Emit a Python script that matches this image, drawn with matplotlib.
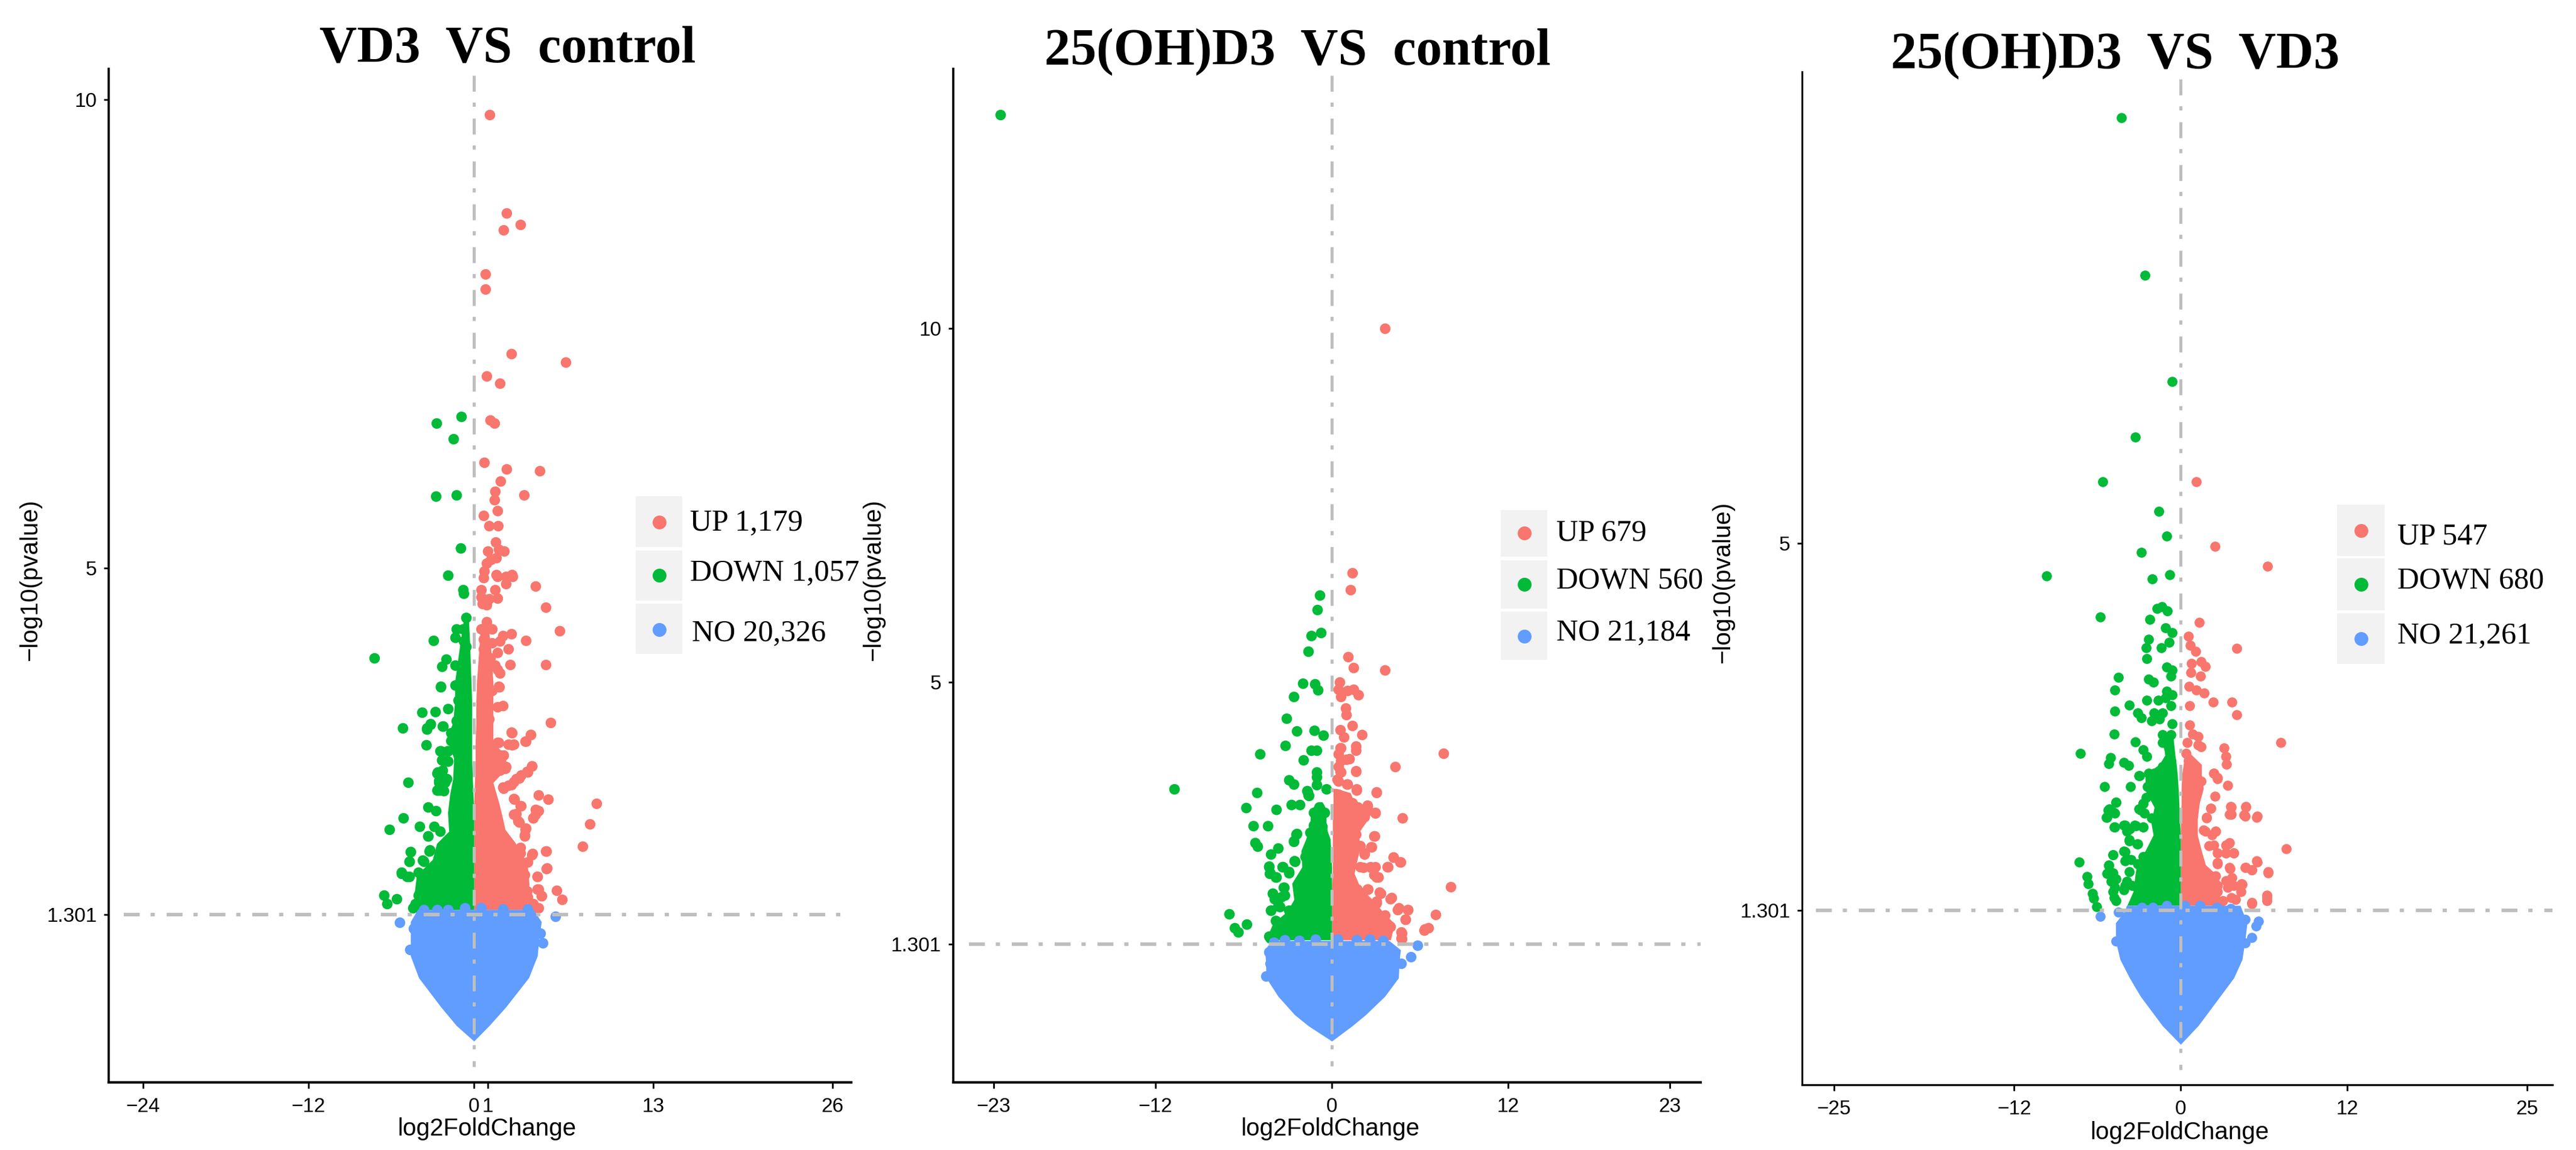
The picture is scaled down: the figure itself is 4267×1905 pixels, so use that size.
import matplotlib
matplotlib.use('Agg')
import matplotlib.pyplot as plt
from matplotlib.patches import Rectangle
from matplotlib.lines import Line2D

W = 4267
H = 1905
RED = '#F8766D'
GREEN = '#00BA38'
BLUE = '#619CFF'
LINE_GREY = '#BEBEBE'
KEY_GREY = '#F2F2F2'
SERIF = 'Liberation Serif'
NARROW = ['Liberation Sans Narrow', 'Liberation Sans']
SANS = 'Liberation Sans'

titles = ['VD3  VS  control', '25(OH)D3  VS  control', '25(OH)D3  VS  VD3']
legend_labels = [['UP 1,179', 'DOWN 1,057', 'NO 20,326'],
                 ['UP 679', 'DOWN 560', 'NO 21,184'],
                 ['UP 547', 'DOWN 680', 'NO 21,261']]
x_ticks = [[-24, -12, 0, 1, 13, 26], [-23, -12, 0, 12, 23], [-25, -12, 0, 12, 25]]
y_ticks = [[1.301, 5, 10], [1.301, 5, 10], [1.301, 5]]

# ---- VD3 vs control: outlying points
p1_up_x = [1.15, 2.34, 3.37, 2.14, .83, .83, 2.70, 6.63, .91, 1.87, 1.19, 1.47, .75, 2.38, 4.76, 1.94, 1.51, 1.47, 3.61, 1.71,
           .71, 1.07, 1.75, 1.59, .99, 2.18, 1.79, 1.63, 1.23, .91, .75, 1.63, 2.74, .71, 1.71, 2.30, 2.78, 2.30, 4.48, .52,
           1.51, .52, 1.11, 1.71, .6, .91, 5.2, .91, .52, 1.31, 2.7, 6.23, 2.10, 3.77, .71, 1.31, 1.9, .71, 2.5, 1.71,
           1.19, .91, 2.62, 5.2, 1.51, 1.9, 1.71, .71, .6, .63, 1.79, 1.31, .91, 1.71, 2.1, .91, 1.11, .83, 5.56, 2.70,
           4.09, 3.77, 2.5, 2.9, 1.71, 1.51, 1.9, 1.31, 4.21, 2.3, 1.9, 1.51, 3.89, 3.29, 2.9, 2.5, 2.1, 4.68, 5.40, 2.9,
           3.37, 8.89, 4.68, 4.48, 4.29, 8.41, 2.9, 3.29, 3.77, 3.69, 7.86, 3.37, 5.2, 4.21, 3.89, 5.28, 4.6, 5.99, 4.68, 4.88,
           6.39, 4.6, 3.89, 3.69, 3.49,
           1.82, 2.74, 4.13, 3.72, 2.77, 1.78, 2.12, 2.26, 4.19, 3.87, 3.43, 3.06, 2.7, 2.12, 2.92, 3.4, 4.45, 4.3, 3.06, 3.21,
           3.72, 3.69, 3.36, 4.23, 5.25, 5.25, 4.6, 4.6, 4.89, 4.67, 3.87, 4.3]
p1_up_y = [9.84, 8.79, 8.67, 8.61, 8.14, 7.98, 7.29, 7.20, 7.05, 6.97, 6.58, 6.55, 6.13, 6.06, 6.04, 5.93, 5.82, 5.73, 5.78, 5.61,
           5.56, 5.45, 5.45, 5.28, 5.18, 5.18, 5.20, 5.11, 5.09, 5.05, 4.97, 4.93, 4.93, 4.90, 4.91, 4.91, 4.91, 4.83, 4.81, 4.77,
           4.77, 4.69, 4.67, 4.68, 4.62, 4.61, 4.58, 4.43, 4.35, 4.35, 4.30, 4.33, 4.28, 4.23, 4.24, 4.2, 4.22, 4.14, 4.14, 4.10,
           4.04, 4.0, 3.97, 3.97, 3.96, 3.88, 3.92, 3.90, 3.80, 3.75, 3.74, 3.69, 3.61, 3.52, 3.53, 3.51, 3.39, 3.33, 3.35, 3.25,
           3.22, 3.15, 3.12, 3.12, 3.14, 3.02, 3.0, 3.06, 2.89, 2.88, 2.84, 2.9, 2.82, 2.76, 2.72, 2.68, 2.66, 2.58, 2.53, 2.54,
           2.46, 2.49, 2.41, 2.37, 2.33, 2.27, 2.37, 2.29, 2.22, 2.14, 2.03, 2.02, 1.98, 1.94, 1.86, 1.80, 1.71, 1.56, 1.57, 1.5,
           1.46, 1.37, 1.49, 1.73, 1.67,
           3.73, 3.24, 3.22, 3.15, 3.11, 3.14, 3.0, 2.86, 2.89, 2.83, 2.79, 2.75, 2.69, 2.65, 2.53, 2.46, 2.42, 2.33, 2.38, 2.3,
           2.21, 2.15, 1.96, 1.95, 1.98, 1.79, 1.71, 1.57, 1.5, 1.37, 1.55, 1.42]
p1_down_x = [-.91, -2.70, -1.47, -2.74, -1.27, -.95, -1.87, -.79, -.75, -.56, -1.27, -.79, -2.94, -1.35, -.75, -.56, -7.22, -2.02, -2.34, -1.35,
             -2.42, -1.35, -1.15, -1.87, -2.82, -3.77, -1.27, -3.17, -3.41, -5.16, -2.26, -1.67, -1.67, -3.45, -2.46, -1.94, -2.34, -1.94, -2.66, -2.34,
             -4.76, -2.54, -2.06, -2.66, -2.46, -3.33, -2.78, -5.12, -6.15, -3.93, -2.9, -3.33, -2.46, -4.6, -3.25, -4.68, -3.65, -5.24, -4.84, -4.05,
             -3.65, -2.66, -2.86, -3.85, -4.05, -3.45, -6.51, -6.31, -5.6, -4.25, -3.06, -4.44,
             -2.41, -3.14, -3.4, -2.23, -2.41, -1.9, -2.33, -1.9, -2.26, -2.63, -1.97, -2.55, -2.12, -2.63, -2.19,
             -3.33, -3.21, -4.6, -4.67, -3.72, -5.25, -4.67, -4.23, -3.57]
p1_down_y = [6.62, 6.55, 6.38, 5.77, 5.78, 5.21, 4.92, 4.77, 4.73, 4.47, 4.35, 4.35, 4.23, 4.26, 4.22, 4.16, 4.04, 4.03, 3.95, 3.96,
             3.74, 3.75, 3.59, 3.5, 3.47, 3.46, 3.37, 3.33, 3.28, 3.29, 3.31, 3.24, 3.16, 3.11, 3.05, 3.05, 2.95, 2.94, 2.81, 2.83,
             2.71, 2.73, 2.73, 2.63, 2.63, 2.45, 2.41, 2.33, 2.21, 2.24, 2.24, 2.14, 2.19, 1.97, 1.98, 1.87, 1.87, 1.75, 1.71, 1.75,
             1.69, 1.84, 1.73, 1.57, 1.51, 1.49, 1.51, 1.42, 1.47, 1.41, 1.45, 1.37,
             3.73, 3.34, 3.29, 3.31, 3.05, 3.05, 2.95, 2.94, 2.84, 2.82, 2.75, 2.71, 2.71, 2.63, 2.62,
             2.14, 1.99, 1.97, 1.87, 1.88, 1.74, 1.71, 1.42, 1.48]
p1_no_x = [-5.4, -4.37, 5.91, 4.8, 5.0, -4.64, 4.48, -3.65, -2.66, -1.87, -.67, .52, 2.1, 3.89]
p1_no_y = [1.22, 1.155, 1.28, 1.10, 1.0, .93, 1.2, 1.35, 1.35, 1.35, 1.37, 1.37, 1.36, 1.36]
# outline of the solid part of each cloud, read row by row
p1_up_core_y = [1.355, 1.63, 1.85, 2.07, 2.21, 2.32, 2.49, 2.71, 2.86, 3.0, 3.14, 3.35, 3.56, 3.78, 4.2, 4.4]
p1_up_core_outer = [3.87, 4.0, 3.87, 2.99, 2.26, 2.1, 1.82, 1.39, 2.35, 2.3, 1.39, 1.39, 1.39, 1.39, 1.2, 1.0]
p1_up_core_inner = [0, 0, 0, 0, 0, 0, 0, .05, .1, .1, .1, .15, .15, .2, .4, .5]
p1_down_core_y = [1.355, 1.55, 1.72, 1.89, 2.06, 2.19, 2.39, 2.58, 2.75, 2.97, 3.18, 3.35, 3.57, 3.78, 4.2, 4.5]
p1_down_core_outer = [-4.08, -4.3, -4.16, -3.0, -2.7, -1.82, -1.9, -1.75, -1.53, -1.46, -1.97, -1.53, -1.39, -1.39, -1.0, -.7]
p1_down_core_inner = [0, 0, 0, 0, 0, 0, 0, -.05, -.1, -.15, -.15, -.15, -.15, -.2, -.3, -.4]
p1_no_core_y = [-.05, .116, .312, .626, .86, 1.02, 1.226, 1.355]
p1_no_core_left = [0, -1.27, -2.38, -4.0, -4.6, -4.6, -4.6, -4.08]
p1_no_core_right = [0, 1.11, 2.3, 3.97, 4.6, 4.7, 4.89, 4.3]

# ---- 25(OH)D3 vs control
p2_up_x = [3.61, 1.41, 1.26, 1.12, 1.49, 3.61, .52, .45, 1.08, 1.49, 1.79, .6, .93, 1.0, 1.41, .56, 2.05, .82, .63, 1.64,
           1.64, 7.59, .45, .63, 1.19, .45, 4.32, 1.64, .63, .45, 1.04, 1.67, 3.05, .45, .63, 1.38, 1.75, 2.42, 2.31, 2.94,
           4.8, .45, 1.19, 1.86, 1.38, 1.64, 2.86, 2.68, .63, 1.19, 1.93, 2.2, 4.2, 4.65, 3.79, 2.12, 2.68, 3.16, 2.86, 2.42,
           8.07, 3.31, 3.98, 4.54, 5.17, 4.99, 7.07, 6.58, 6.29, 4.72, 4.72, 3.05, 3.61, 2.68, 3.98, 2.86,
           .57, .99, .57, .37, 1.05, 1.7, 1.63, 3.04, 2.42, 2.97, 1.4, 1.74, 2.22, 1.67, 2.9, 2.7, 2.22, 4.2, 4.68, 3.83,
           1.94, 2.63, 2.97, 3.04, 1.74, 2.45, 3.24, 4.07, 4.48, 5.16, 5.02, 6.32, 4.75, 4.75, 3.04]
p2_up_y = [10.0, 6.55, 6.31, 5.36, 5.21, 5.17, 5.0, 4.90, 4.88, 4.9, 4.82, 4.8, 4.64, 4.54, 4.39, 4.33, 4.26, 4.23, 4.07, 4.1,
           4.04, 4.0, 3.99, 3.89, 3.92, 3.81, 3.81, 3.74, 3.73, 3.6, 3.56, 3.48, 3.44, 3.42, 3.34, 3.27, 3.24, 3.26, 3.16, 3.15,
           3.08, 3.08, 3.11, 3.08, 2.96, 2.85, 2.83, 2.67, 2.8, 2.72, 2.69, 2.57, 2.53, 2.46, 2.39, 2.38, 2.38, 2.25, 2.28, 2.08,
           2.11, 2.02, 1.94, 1.81, 1.79, 1.65, 1.72, 1.53, 1.5, 1.47, 1.39, 1.91, 1.71, 1.76, 1.55, 1.63,
           4.07, 3.91, 3.74, 3.63, 3.56, 3.49, 3.75, 3.45, 3.24, 3.16, 3.3, 3.24, 3.1, 2.96, 2.83, 2.67, 2.59, 2.53, 2.46, 2.39,
           2.39, 2.39, 2.39, 2.25, 2.08, 2.08, 2.03, 1.96, 1.79, 1.79, 1.65, 1.51, 1.45, 1.38, 1.88]
p2_down_x = [-22.54, -.82, -1.0, -.74, -1.38, -1.6, -1.97, -1.15, -.93, -2.6, -3.09, -2.38, -1.19, -.56, -3.16, -1.41, -1.04, -4.87, -1.93, -1.04,
             -1.04, -2.9, -2.57, -1.04, -.37, -10.71, -1.67, -1.56, -5.1, -2.75, -2.16, -5.84, -3.76, -.86, -1.23, -.48, -5.32, -4.35, -1.23, -.67,
             -2.42, -2.6, -1.49, -5.21, -5.06, -3.65, -4.13, -2.53, -1.79, -4.28, -3.35, -4.2, -3.76, -2.9, -4.02, -3.91, -3.27, -3.46, -4.13, -3.65,
             -2.9, -6.99, -5.8, -6.62, -6.36, -3.83, -4.2, -3.27,
             -1.64, -1.62, -2.37, -2.6, -2.51, -4.28, -4.22, -3.81, -3.33, -2.92, -3.23, -4.01, -3.19, -4.15, -3.53, -4.28]
p2_down_y = [13.02, 6.23, 6.03, 5.70, 5.66, 5.44, 4.99, 4.98, 4.89, 4.8, 4.49, 4.31, 4.32, 4.25, 4.11, 4.04, 4.04, 3.99, 3.9, 3.73,
             3.66, 3.62, 3.56, 3.55, 3.49, 3.49, 3.47, 3.4, 3.44, 3.27, 3.27, 3.23, 3.2, 3.24, 3.16, 3.16, 2.97, 2.97, 2.98, 2.96,
             2.85, 2.75, 2.88, 2.73, 2.68, 2.66, 2.57, 2.48, 2.54, 2.39, 2.39, 2.31, 2.25, 2.31, 2.02, 1.94, 2.1, 1.97, 1.78, 1.84,
             1.78, 1.73, 1.58, 1.53, 1.47, 1.63, 1.39, 1.45,
             3.45, 3.41, 2.86, 2.76, 2.47, 2.40, 2.3, 2.25, 2.39, 2.32, 2.1, 2.02, 1.99, 1.78, 1.83, 1.41]
p2_no_x = [5.84, 5.36, -4.28, -4.2, -4.46, 4.72, -3.94, -3.2, -2.2, -1.1, .4, 1.7, 2.6, 3.5]
p2_no_y = [1.28, 1.12, 1.19, 1.03, .85, 1.03, 1.33, 1.36, 1.35, 1.37, 1.37, 1.36, 1.37, 1.35]
p2_up_core_y = [1.36, 1.59, 1.73, 1.93, 2.1, 2.3, 2.44, 2.67, 2.87, 3.07, 3.24, 3.44, 3.5]
p2_up_core_outer = [4.0, 4.27, 3.59, 2.77, 1.94, 1.53, 1.67, 1.94, 1.81, 2.49, 1.67, 1.26, .3]
p2_up_core_inner = [0, 0, 0, 0, 0, .05, .05, .05, .05, .05, .1, .1, .1]
p2_down_core_y = [1.36, 1.59, 1.76, 1.93, 2.16, 2.39, 2.62, 2.79, 2.9, 3.01, 3.21, 3.31]
p2_down_core_outer = [-4.49, -4.01, -3.05, -2.57, -2.71, -2.03, -2.09, -1.75, -1.62, -1.48, -1.41, -.87]
p2_down_core_inner = [0, 0, 0, 0, 0, 0, -.05, -.11, -.3, -.38, -.38, -.65]
p2_no_core_y = [-.07, .147, .303, .563, .823, 1.08, 1.22, 1.35]
p2_no_core_left = [0, -1.6, -2.53, -3.65, -4.46, -4.5, -4.56, -4.1]
p2_no_core_right = [0, 1.4, 2.31, 3.61, 4.54, 4.6, 4.68, 3.9]

# ---- 25(OH)D3 vs VD3
p3_up_x = [1.15, 2.46, 6.26, 1.35, .55, .71, 1.07, 4.04, .79, 1.47, 1.78, .75, 1.43, .59, 1.11, 1.7, 2.34, 3.68, 4.04, .67,
           .67, .87, 1.27, .48, 1.27, 1.47, 3.13, 3.25, 3.33, 7.21, .4, .55, 1.07, 2.38, 2.65, 3.41, 1.47, 2.46, 2.18, 1.86,
           3.64, 4.71, 3.64, 4.64, 5.51, 1.78, 2.54, 2.26, 7.61, 3.45, 3.25, 2.06, 2.65, 3.84, 2.65, 3.57, 4.64, 5.15, 5.55, 6.3,
           2.26, 3.25, 3.84, 4.44, 4.36, 2.65, 6.22, 6.22, 5.15, 3.05, 3.64,
           2.38, 2.67, 2.16, 1.87, 3.61, 3.54, 4.56, 4.7, 5.5, 1.65, 2.53, 2.38, 3.25, 3.54, 2.67, 3.83, 3.25,
           3.54, 3.69, 4.41, 3.4, 2.53, 2.67, 3.98, 2.96, 6.23, 5.14, 5.5, 6.3, 4.7, 5.14]
p3_up_y = [5.62, 4.97, 4.77, 4.2, 4.06, 3.97, 3.91, 3.94, 3.79, 3.81, 3.76, 3.7, 3.66, 3.56, 3.52, 3.49, 3.4, 3.4, 3.27, 3.36,
           3.17, 3.08, 3.05, 2.99, 2.97, 2.95, 2.94, 2.85, 2.77, 2.99, 2.88, 2.81, 2.73, 2.68, 2.63, 2.56, 2.6, 2.45, 2.33, 2.23,
           2.34, 2.35, 2.27, 2.25, 2.25, 2.1, 2.1, 2.06, 1.92, 1.97, 1.88, 1.95, 1.88, 1.88, 1.77, 1.72, 1.73, 1.71, 1.79, 1.69,
           1.62, 1.6, 1.55, 1.56, 1.49, 1.49, 1.45, 1.4, 1.37, 1.4, 1.43,
           2.68, 2.64, 2.33, 2.24, 2.35, 2.27, 2.26, 2.34, 2.24, 2.11, 2.1, 1.96, 1.96, 1.98, 1.78, 1.88, 1.88,
           1.73, 1.63, 1.57, 1.53, 1.65, 1.55, 1.41, 1.39, 1.43, 1.38, 1.8, 1.68, 1.73, 1.71]
p3_down_x = [-4.28, -2.58, -.63, -3.25, -5.63, -1.58, -.99, -2.81, -.79, -9.67, -2.06, -1.7, -1.35, -.95, -5.78, -2.22, -1.11, -.63, -2.3, -2.5,
             -.83, -1.39, -2.46, -.99, -.59, -.71, -4.48, -2.3, -1.98, -4.75, -.99, -.63, -1.11, -1.62, -2.42, -3.68, -.71, -1.31, -1.9, -1.51,
             -2.1, -4.75, -3.09, -2.85, -.63, -4.79, -1.31, -.71, -1.31, -3.25, -7.21, -2.69, -2.42, -.79, -.71, -5.07, -5.19, -4.08, -3.76, -1.31,
             -2.97, -2.3, -1.9, -5.47, -3.61, -2.3, -2.5, -4.68, -5.15, -4.87, -5.35, -2.69, -2.89, -2.1, -4.75, -4.08, -3.29, -2.69, -3.88, -3.68,
             -3.09, -4.08, -4.87, -3.88, -7.33, -5.19, -5.23, -4.68, -2.69, -3.09, -3.68, -3.49, -6.74, -6.66, -6.34, -6.26, -6.06, -4.87, -4.68, -4.08, -4.87,
             -5.17, -5.31, -5.02, -4.01, -3.57, -3.86, -4.73, -4.01, -4.8, -4.88, -4.01, -3.71, -3.13, -4.8, -4.01, -3.64, -3.21, -2.7,
             -2.7, -2.99, -2.63, -4.66, -5.24, -5.31, -4.73, -2.99, -2.41]
p3_down_y = [9.29, 7.70, 6.63, 6.07, 5.62, 5.32, 5.07, 4.91, 4.68, 4.67, 4.64, 4.34, 4.36, 4.32, 4.26, 4.23, 4.15, 4.1, 4.03, 3.95,
             4.0, 3.95, 3.84, 3.75, 3.72, 3.66, 3.65, 3.63, 3.6, 3.52, 3.51, 3.47, 3.44, 3.42, 3.42, 3.37, 3.36, 3.29, 3.29, 3.23,
             3.21, 3.31, 3.29, 3.24, 3.18, 3.08, 3.07, 3.07, 2.99, 3.0, 2.88, 2.92, 2.85, 2.88, 2.81, 2.84, 2.78, 2.79, 2.76, 2.75,
             2.66, 2.68, 2.68, 2.55, 2.55, 2.55, 2.44, 2.39, 2.32, 2.29, 2.24, 2.38, 2.31, 2.23, 2.14, 2.16, 2.16, 2.14, 2.1, 2.01,
             1.97, 1.9, 1.86, 1.82, 1.79, 1.75, 1.68, 1.62, 1.84, 1.77, 1.69, 1.55, 1.64, 1.57, 1.47, 1.42, 1.34, 1.49, 1.4, 1.51, 1.68,
             1.76, 1.67, 1.59, 1.8, 1.81, 1.59, 1.53, 1.55, 1.43, 1.86, 1.89, 2.0, 1.97, 2.14, 2.16, 2.12, 2.15, 2.14,
             2.38, 2.32, 2.28, 2.39, 2.31, 2.24, 2.28, 2.66, 2.55]
p3_no_x = [-5.78, -4.48, 5.63, 5.43, 5.15, 4.64, 4.64, -4.68, -2.8, -2.0, -1.0, .3, 1.4, 2.6, 3.6]
p3_no_y = [1.24, 1.28, 1.19, 1.14, 1.03, 1.21, .97, .99, 1.33, 1.33, 1.35, 1.35, 1.35, 1.33, 1.32]
p3_up_core_y = [1.35, 1.53, 1.65, 1.76, 1.9, 2.06, 2.22, 2.38, 2.53, 2.67, 2.77, 2.87, 2.91]
p3_up_core_outer = [2.67, 2.96, 2.67, 1.8, 1.51, 1.22, 1.22, 1.36, 1.65, 1.51, 1.51, .78, .49]
p3_up_core_inner = [0, 0, 0, 0, 0, 0, 0, .05, .05, .1, .2, .3, .3]
p3_down_core_y = [1.35, 1.49, 1.65, 1.8, 1.9, 2.06, 2.18, 2.34, 2.51, 2.67, 2.77, 2.87, 3.03, 3.09]
p3_down_core_outer = [-3.86, -3.42, -3.28, -3.13, -2.55, -1.97, -2.12, -1.9, -2.55, -2.55, -1.54, -1.1, -1.39, -.96]
p3_down_core_inner = [0, 0, 0, 0, 0, 0, -.05, -.1, -.15, -.23, -.3, -.4, -.52, -.55]
p3_no_core_y = [-.05, .138, .434, .62, .805, .99, 1.175, 1.30, 1.35]
p3_no_core_left = [0, -1.31, -2.89, -3.68, -4.36, -4.68, -4.68, -4.0, -3.9]
p3_no_core_right = [0, 1.27, 2.85, 3.84, 4.44, 4.64, 4.8, 4.44, 4.3]

up_x = [p1_up_x, p2_up_x, p3_up_x]
up_y = [p1_up_y, p2_up_y, p3_up_y]
down_x = [p1_down_x, p2_down_x, p3_down_x]
down_y = [p1_down_y, p2_down_y, p3_down_y]
no_x = [p1_no_x, p2_no_x, p3_no_x]
no_y = [p1_no_y, p2_no_y, p3_no_y]
up_core = [(p1_up_core_y, p1_up_core_outer, p1_up_core_inner),
           (p2_up_core_y, p2_up_core_outer, p2_up_core_inner),
           (p3_up_core_y, p3_up_core_outer, p3_up_core_inner)]
down_core = [(p1_down_core_y, p1_down_core_outer, p1_down_core_inner),
             (p2_down_core_y, p2_down_core_outer, p2_down_core_inner),
             (p3_down_core_y, p3_down_core_outer, p3_down_core_inner)]
no_core = [(p1_no_core_y, p1_no_core_left, p1_no_core_right),
           (p2_no_core_y, p2_no_core_left, p2_no_core_right),
           (p3_no_core_y, p3_no_core_left, p3_no_core_right)]

# layout in pixels of the reference: axes box, limits, guide line ends
boxes = [(180, 1410, 114, 1793), (1578.5, 2817, 114, 1793), (2985, 4228, 119, 1797)]
x_lims = [(-26.48, 27.35), (-25.77, 25.09), (-27.3, 26.82)]
y_lims = [(-.49, 10.33), (-.653, 13.67), (-.457, 9.75)]
vline_ends = [(10.26, -.32), (13.58, -.42), (9.68, -.305)]
hline_starts = [-25.4, -24.7, -26.3]
title_pos = [(841, 103), (2149, 106), (3504, 112)]
ylabel_pos = [(50, 961), (1447, 961), (2854, 965)]
xlabel_pos = [(806, 1870), (2203, 1870), (3610, 1876)]
key_boxes = [[(1052.5, 1130.4, 822, 906), (1052.5, 1130.4, 912, 994.5), (1052.5, 1130.4, 1000, 1083)],
             [(2486, 2563, 845, 922), (2486, 2563, 928, 1008), (2486, 2563, 1013, 1093)],
             [(3871, 3950, 836, 921), (3871, 3950, 925, 1011), (3871, 3950, 1016, 1100)]]
key_marks = [[(1091.5, 865), (1091.5, 953), (1091.5, 1042.6)],
             [(2525, 883), (2525, 968), (2525, 1053.5)],
             [(3911, 879), (3911, 968), (3911, 1058)]]
key_text = [[(1143, 867), (1143, 950), (1146, 1050)],
            [(2578, 883), (2578, 963), (2578, 1049)],
            [(3971, 889), (3971, 963), (3971, 1053.5)]]
dash_pattern = (0, (19, 13, 5, 14.1))

plt.rcParams['lines.scale_dashes'] = False


def fx(px):
    return px / W


def fy(py):
    return 1 - py / H


def fig_text(fig, pos, label, **kw):
    fig.text(fx(pos[0]), fy(pos[1]), label, **kw)


def tick_text(v):
    if v == 1.301:
        return '1.301'
    return str(v).replace('-', '\u2212')


def draw_panel(fig, i):
    left, right, top, bottom = boxes[i]
    ax = fig.add_axes([fx(left), fy(bottom), (right - left) / W, (bottom - top) / H])
    ax.set_xlim(x_lims[i])
    ax.set_ylim(y_lims[i])

    size = 160 if i < 2 else 145
    core_y, core_l, core_r = no_core[i]
    ax.fill_betweenx(core_y, core_l, core_r, color=BLUE, lw=0, zorder=3)
    ax.scatter(no_x[i], no_y[i], s=size, c=BLUE, linewidths=0, zorder=3)
    core_y, outer, inner = up_core[i]
    ax.fill_betweenx(core_y, inner, outer, color=RED, lw=0, zorder=2)
    ax.scatter(up_x[i], up_y[i], s=size, c=RED, linewidths=0, zorder=2)
    core_y, outer, inner = down_core[i]
    ax.fill_betweenx(core_y, outer, inner, color=GREEN, lw=0, zorder=2)
    ax.scatter(down_x[i], down_y[i], s=size, c=GREEN, linewidths=0, zorder=2)

    ax.plot([0, 0], vline_ends[i], color=LINE_GREY, lw=3.6, linestyle=dash_pattern,
            dash_capstyle='butt', zorder=4)
    ax.plot([hline_starts[i], x_lims[i][1]], [1.301, 1.301], color=LINE_GREY, lw=4.2,
            linestyle=dash_pattern, dash_capstyle='butt', zorder=4)

    for side in ['top', 'right']:
        ax.spines[side].set_visible(False)
    ax.spines['left'].set_linewidth(2.6 if i < 2 else 2.2)
    ax.spines['bottom'].set_linewidth(3.0 if i < 2 else 2.4)

    ax.set_xticks(x_ticks[i])
    ax.set_xticklabels([tick_text(v) for v in x_ticks[i]], family=NARROW, fontsize=24)
    ax.set_yticks(y_ticks[i])
    ax.set_yticklabels([tick_text(v) for v in y_ticks[i]], family=NARROW, fontsize=24)
    ax.tick_params(axis='x', length=7, width=2, pad=11)
    ax.tick_params(axis='y', length=6, width=2, pad=8)

    fig_text(fig, title_pos[i], titles[i], family=SERIF, weight='bold', fontsize=62,
             ha='center', va='baseline')
    fig_text(fig, xlabel_pos[i], 'log2FoldChange', family=SANS, fontsize=29, ha='center', va='center')
    fig_text(fig, ylabel_pos[i], '\u2212log10(pvalue)', family=SANS, fontsize=29, rotation=90,
             ha='center', va='center')

    for box, mark, tpos, label, col in zip(key_boxes[i], key_marks[i], key_text[i], legend_labels[i], [RED, GREEN, BLUE]):
        fig.add_artist(Rectangle((fx(box[0]), fy(box[3])), (box[1] - box[0]) / W, (box[3] - box[2]) / H,
                                 transform=fig.transFigure, facecolor=KEY_GREY, edgecolor='none'))
        fig.add_artist(Line2D([fx(mark[0])], [fy(mark[1])], transform=fig.transFigure, marker='o',
                              markersize=16.5, markerfacecolor=col, markeredgewidth=0, linestyle='none'))
        fig_text(fig, tpos, label, family=SERIF, fontsize=36, ha='left', va='center')


fig = plt.figure(figsize=(W / 100, H / 100), dpi=100)
for n in range(3):
    draw_panel(fig, n)
fig.savefig('out.png', dpi=100)
